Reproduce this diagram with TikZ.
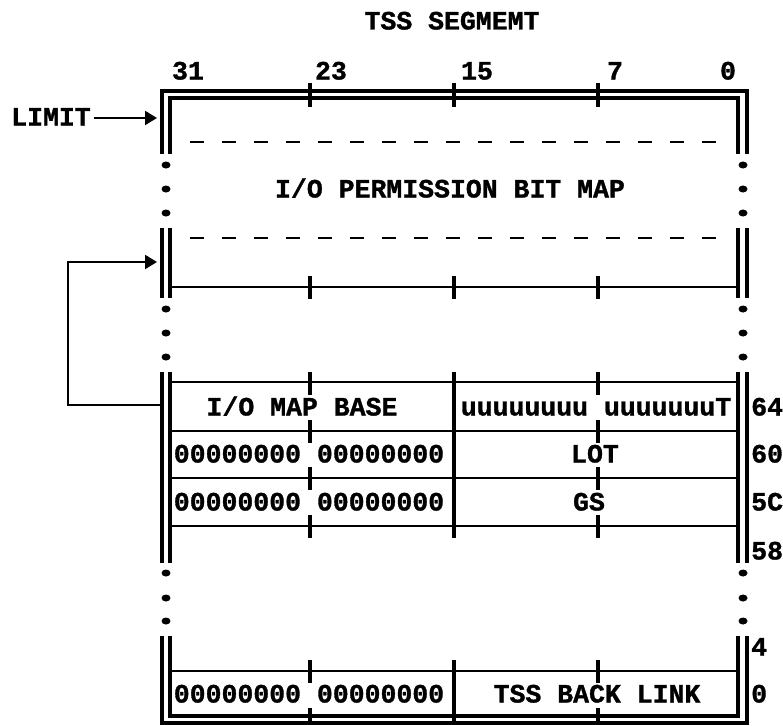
\documentclass[tikz,border=0pt]{standalone}
\usepackage{fontspec}
\setmonofont{Liberation Mono}[BoldFeatures={FakeBold=1.2}]
\usetikzlibrary{arrows.meta}
\tikzset{
  dbl/.style={line width=3.2pt, line join=miter},
  thin/.style={line width=1.8pt},
  tickmark/.style={line width=3.2pt},
  dashedline/.style={line width=2.2pt, dash pattern=on 13.5pt off 18.5pt},
  lbl/.style={inner sep=0pt, text height=15pt, text depth=0pt, font=\ttfamily\bfseries\fontsize{26.5}{26.5}\selectfont},
  arr/.style={line width=2.2pt, -{Triangle[length=12pt,width=14pt]}},
  dotmark/.style={fill=black, draw=none},
}
\begin{document}
\begin{tikzpicture}[x=1pt,y=-1pt]
\useasboundingbox (0,0) rectangle (783,725);
% title and bit numbers
\node[lbl] (title) at (452,22) {TSS SEGMEMT};
\node[lbl] (b31) at (188,72) {31};
\node[lbl] (b23) at (331,72) {23};
\node[lbl] (b15) at (477,72) {15};
\node[lbl] (b7) at (615,72) {7};
\node[lbl] (b0) at (728,72) {0};
% segment 1 (bit map)
\draw[dbl] (162,154) -- (162,91) -- (747,91) -- (747,154);
\draw[dbl] (170,154) -- (170,98) -- (738,98) -- (738,154);
\foreach \x in {310,454,598} \draw[tickmark] (\x,83) -- (\x,107);
\draw[dashedline] (190,142) -- (722,142);
\node[lbl] (iopbm) at (450,190) {I/O PERMISSION BIT MAP};
% segment 2
\draw[dbl] (162,228) -- (162,298);
\draw[dbl] (170,228) -- (170,298);
\draw[dbl] (738,228) -- (738,298);
\draw[dbl] (747,228) -- (747,298);
\draw[dashedline] (190,238) -- (722,238);
\draw[thin] (170,287) -- (738,287);
\foreach \x in {310,454,598} \draw[tickmark] (\x,276) -- (\x,299);
% segment 3
\draw[dbl] (162,372) -- (162,563);
\draw[dbl] (170,372) -- (170,563);
\draw[dbl] (738,372) -- (738,563);
\draw[dbl] (747,372) -- (747,563);
\foreach \y in {382,431,478,526} \draw[thin] (170,\y) -- (738,\y);
\draw[tickmark] (454,372) -- (454,538);
\foreach \x in {310,598} {
  \draw[tickmark] (\x,372) -- (\x,395);
  \draw[tickmark] (\x,420) -- (\x,443);
  \draw[tickmark] (\x,467) -- (\x,490);
  \draw[tickmark] (\x,515) -- (\x,538);
}
% segment 4
\draw[dbl] (162,636) -- (162,723) -- (747,723) -- (747,636);
\draw[dbl] (170,636) -- (170,716) -- (738,716) -- (738,636);
\draw[thin] (170,671) -- (738,671);
\draw[tickmark] (454,660) -- (454,725);
\foreach \x in {310,598} {
  \draw[tickmark] (\x,660) -- (\x,683);
  \draw[tickmark] (\x,708) -- (\x,725);
}
% continuation dots
\foreach \y in {165,189,213,309,333,357,573,598,621} {
  \fill[dotmark] (166,\y) ellipse (4.5pt and 3.5pt);
  \fill[dotmark] (743,\y) ellipse (4.5pt and 3.5pt);
}
% field texts
\node[lbl] (iomb) at (302,408) {I/O MAP BASE};
\node[lbl] (uu) at (596,408) {uuuuuuuu uuuuuuuT};
\node[lbl] (z60) at (309,455) {00000000 00000000};
\node[lbl] (lot) at (595,455) {LOT};
\node[lbl] (z5c) at (309,503) {00000000 00000000};
\node[lbl] (gs) at (589,503) {GS};
\node[lbl] (z0) at (309,695) {00000000 00000000};
\node[lbl] (tbl) at (597,695) {TSS BACK LINK};
% offsets
\node[lbl, anchor=west] (o64) at (751,408) {64};
\node[lbl, anchor=west] (o60) at (751,455) {60};
\node[lbl, anchor=west] (o5c) at (751,503) {5C};
\node[lbl, anchor=west] (o58) at (751,552) {58};
\node[lbl, anchor=west] (o4) at (751,648) {4};
\node[lbl, anchor=west] (o0) at (751,695) {0};
% arrows
\node[lbl] (limit) at (51,118) {LIMIT};
\coordinate (limtip) at (157,118);
\draw[arr] (limit.east) ++(3,0) -- (limtip);
\coordinate (basept) at (162,405);
\coordinate (bmtip) at (157,262);
\coordinate (bend) at (68,405);
\draw[arr] (basept) -- (bend) |- (bmtip);
\end{tikzpicture}
\end{document}
